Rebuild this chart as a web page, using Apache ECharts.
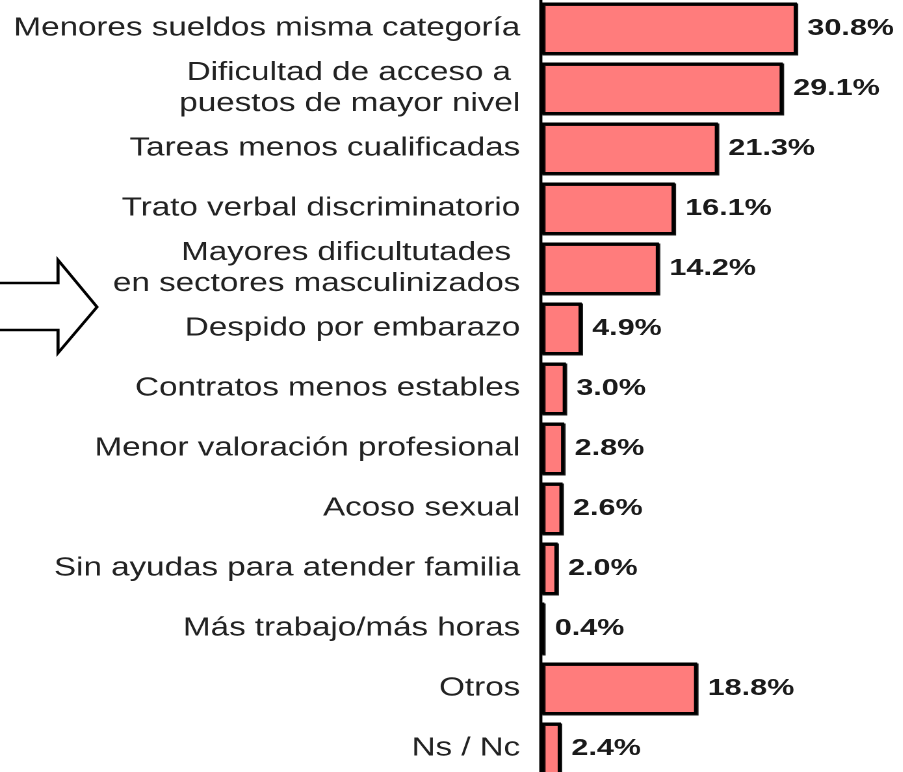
<!DOCTYPE html>
<html>
<head>
<meta charset="utf-8">
<script src="https://cdn.jsdelivr.net/npm/echarts@6.0.0/dist/echarts.min.js"></script>
<style>
html,body{margin:0;padding:0;background:#fff;overflow:hidden;}
#c{position:absolute;left:0;top:0;height:772px;transform-origin:0 0;}
</style>
</head>
<body>
<div id="c"></div>
<script>
// Data
const categories = [
  "Menores sueldos misma categoría",
  "Dificultad de acceso a \npuestos de mayor nivel",
  "Tareas menos cualificadas",
  "Trato verbal discriminatorio",
  "Mayores dificultutades \nen sectores masculinizados",
  "Despido por embarazo",
  "Contratos menos estables",
  "Menor valoración profesional",
  "Acoso sexual",
  "Sin ayudas para atender familia",
  "Más trabajo/más horas",
  "Otros",
  "Ns / Nc"
];
const values = [30.8, 29.1, 21.3, 16.1, 14.2, 4.9, 3.0, 2.8, 2.6, 2.0, 0.4, 18.8, 2.4];

// Layout (drawn narrower, then stretched horizontally like the reference)
const SX = 1.3;
const W = 903 / SX;
const el = document.getElementById('c');
el.style.width = W + 'px';
el.style.transform = 'scaleX(' + SX + ')';

const axisX = 541 / SX;
const pxPerPct = 8.31 / SX;
const xMax = 40;

const chart = echarts.init(el, null, {renderer: 'canvas', devicePixelRatio: 2});

const ax = (x) => x / SX;
const arrowPts = [[-5,283],[58,283],[58,260],[97,307],[58,353],[58,330],[-5,330]].map(p => [ax(p[0]), p[1]]);

chart.setOption({
  animation: false,
  backgroundColor: '#ffffff',
  textStyle: {fontFamily: '"Liberation Sans", Arial, sans-serif'},
  grid: {left: axisX, top: -1.5, width: xMax * pxPerPct, height: 780, containLabel: false, outerBoundsMode: 'none'},
  xAxis: {
    type: 'value', min: 0, max: xMax, show: false
  },
  yAxis: {
    type: 'category',
    data: categories,
    inverse: true,
    axisLine: {show: true, lineStyle: {color: '#000', width: 2.4}},
    axisTick: {show: false},
    axisLabel: {
      margin: 16,
      fontSize: 25.5,
      lineHeight: 31,
      color: '#222',
      align: 'right',
      fontFamily: '"Liberation Sans", Arial, sans-serif'
    }
  },
  series: [{
    type: 'bar',
    data: values,
    barWidth: 52,
    z: 1,
    itemStyle: {
      color: '#ff7c7c',
      borderColor: '#000',
      borderWidth: 2.5,
      shadowColor: 'rgba(0,0,0,0.9)',
      shadowOffsetX: 1,
      shadowOffsetY: 1,
      shadowBlur: 0
    },
    label: {
      show: true,
      position: 'right',
      distance: 8,
      fontSize: 23.5,
      fontWeight: 'bold',
      color: '#1a1a1a',
      fontFamily: '"Liberation Sans", Arial, sans-serif',
      formatter: (p) => p.value.toFixed(1) + '%'
    }
  }],
  graphic: [{
    type: 'polygon',
    shape: {points: arrowPts},
    style: {fill: '#fff', stroke: '#000', lineWidth: 2.4, lineJoin: 'miter'},
    z: 10
  }]
});
</script>
</body>
</html>
